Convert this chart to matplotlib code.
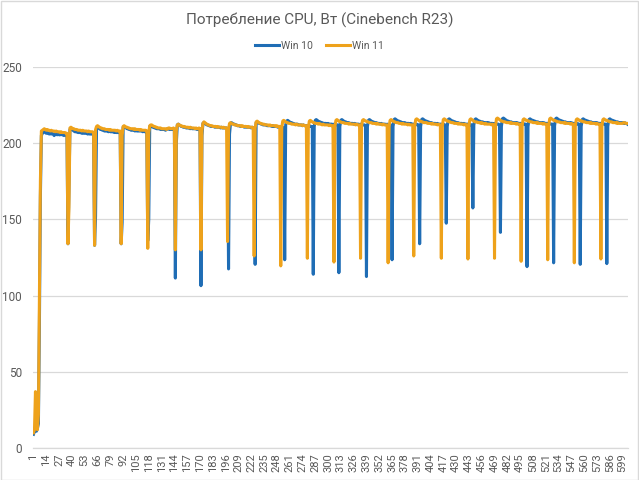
import matplotlib
matplotlib.use("Agg")
import matplotlib.pyplot as plt
from matplotlib.lines import Line2D
from matplotlib.patches import Rectangle
import numpy as np

title = "Потребление CPU, Вт (Cinebench R23)"
series_names = ["Win 10", "Win 11"]

# Win 10 power draw per sample (W)
win10 = [
    9, 11, 12, 11, 13, 16, 80, 165,
    205, 206.5, 207, 207.5, 207, 206.5, 207, 206.5, 206, 206.5, 206, 206.5, 206, 205, 206, 206, 205.5, 206, 205.5, 205.5, 206, 205.5, 205.5, 205, 205.5, 205.5, 205,
    134,
    170, 209, 209.5, 209, 208.5, 208, 207.5, 207.5, 207.5, 207, 207, 207, 207, 206.5, 207, 206.5, 206.5, 206.5, 206.5, 206, 206.5, 206, 206, 206, 206, 205.5,
    133,
    152, 210, 210.5, 210, 209.5, 209, 209, 208.5, 208.5, 208, 208, 208, 208, 207.5, 208, 207.5, 207.5, 207.5, 207.5, 207, 207.5, 207, 207, 207, 207, 207,
    134,
    148, 210.5, 211, 210.5, 210, 209.5, 209.5, 209, 209, 208.5, 208.5, 208.5, 208.5, 208, 208.5, 208, 208, 208, 208, 208, 208, 207.5, 208, 207.5, 207.5, 207.5,
    136,
    150, 211, 211.5, 211, 210.5, 210.5, 210, 210, 209.5, 209.5, 209.5, 209.5, 209, 209, 209, 209, 209, 208.5, 209, 209.5, 209.5, 209, 209, 209, 209.5, 209, 209,
    111.5,
    200, 212, 212.5, 212, 211.5, 211, 211, 210.5, 210.5, 210.5, 210, 210, 210, 210, 209.5, 210, 209.5, 209.5, 209.5, 209.5, 209.5, 209, 209.5, 209, 209.5,
    106.5,
    205, 213, 213.5, 213, 212.5, 212, 212, 211.5, 211.5, 211, 211, 211, 211, 210.5, 211, 210.5, 210.5, 210.5, 210.5, 210, 210.5, 210, 210, 210, 210, 210,
    209.5, 117.5,
    206, 213, 213.5, 213, 212.5, 212.5, 212, 212, 211.5, 211.5, 211.5, 211, 211, 211, 211, 210.5, 211, 210.5, 210.5, 210.5, 210.5, 210.5, 210, 210.5, 210, 210,
    120.5,
    213.5, 214, 213.5, 213, 213, 212.5, 212.5, 212, 212, 212, 212, 211.5, 211.5, 211.5, 211.5, 211.5, 211, 211.5, 211, 211, 211, 211, 210.5, 211, 210.5, 210.5, 210.5, 210.5, 210,
    123.5,
    212, 214.5, 215, 214.5, 214, 213.5, 213.5, 213, 213, 212.5, 212.5, 212.5, 212.5, 212, 212, 212, 212, 211.5, 212, 211.5, 211.5, 211.5, 211.5, 211, 211.5, 211, 211, 211,
    114,
    211, 215, 215.5, 215, 214.5, 214, 214, 213.5, 213.5, 213, 213, 213, 213, 212.5, 213, 212.5, 212.5, 212.5, 212.5, 212, 212.5, 212, 212, 212, 212,
    115,
    211, 215, 215.5, 215, 214.5, 214, 214, 213.5, 213.5, 213.5, 213, 213, 213, 213, 212.5, 213, 212.5, 212.5, 212.5, 212.5, 212, 212.5, 212, 212, 212, 212, 211.5,
    112.5,
    211, 215, 215.5, 215, 214.5, 214, 214, 213.5, 213.5, 213.5, 213, 213, 213, 212.5, 213, 212.5, 212.5, 212.5, 212.5, 212, 212.5, 212, 212, 212, 212,
    123.5,
    211, 215.5, 216, 215.5, 215, 214.5, 214.5, 214, 214, 213.5, 213.5, 213.5, 213.5, 213, 213, 213, 213, 212.5, 213, 212.5, 212.5, 212.5, 212.5, 212, 212.5, 212, 212,
    134,
    211, 215.5, 216, 215.5, 215, 214.5, 214.5, 214, 214, 213.5, 213.5, 213.5, 213, 213, 213, 213, 212.5, 213, 212.5, 212.5, 212.5, 212.5, 212, 212.5, 212, 212,
    147.5,
    211, 215.5, 216, 215.5, 215, 214.5, 214.5, 214, 214, 213.5, 213.5, 213.5, 213, 213, 213, 213, 212.5, 213, 212.5, 212.5, 212.5, 212.5, 212, 212.5, 212, 212,
    157.5,
    212, 215.5, 216, 215.5, 215, 214.5, 214.5, 214, 214, 214, 213.5, 213.5, 213.5, 213.5, 213, 213.5, 213, 213, 213, 213, 212.5, 213, 212.5, 212.5, 212.5, 212.5, 212,
    141.5,
    211, 216, 216.5, 216, 215.5, 215, 214.5, 214.5, 214, 214, 214, 213.5, 213.5, 213.5, 213.5, 213, 213.5, 213, 213, 213, 213, 212.5, 213, 212.5, 212.5, 212.5,
    119,
    211, 215.5, 216, 215.5, 215, 215, 214.5, 214.5, 214, 214, 214, 213.5, 213.5, 213.5, 213.5, 213, 213.5, 213, 213, 213, 213, 212.5, 213, 212.5, 212.5, 212.5,
    121.5,
    211.5, 216, 216.5, 216, 215.5, 215, 215, 214.5, 214.5, 214, 214, 214, 213.5, 213.5, 213.5, 213.5, 213, 213.5, 213, 213, 213, 213, 212.5, 213, 212.5, 212.5,
    120.5,
    211, 215.5, 216, 215.5, 215, 215, 214.5, 214.5, 214, 214, 214, 213.5, 213.5, 213.5, 213.5, 213, 213.5, 213, 213, 213, 213, 212.5, 213, 212.5, 212.5, 212.5,
    121,
    211, 215.5, 216, 215.5, 215, 215, 214.5, 214.5, 214, 214, 214, 213.5, 213.5, 213.5, 213.5, 213.5, 213, 213.5, 213, 213, 212.5,
]

# Win 11 power draw per sample (W)
win11 = [
    10, 12, 37, 14, 12, 22, 95, 175,
    208, 208.5, 209, 209.5, 209, 208.5, 209, 208.5, 208.5, 208, 208.5, 208, 208, 208, 207.5, 208, 207.5, 207.5, 207.5, 207, 207.5, 207, 207, 207, 207, 206.5, 206.5,
    134,
    158, 210, 210.5, 210, 209.5, 209.5, 209, 209, 209, 208.5, 208.5, 208.5, 208.5, 208, 208.5, 208, 208, 208, 208, 207.5, 208, 207.5, 207.5, 207.5, 207.5, 207,
    133,
    209, 211, 211.5, 211, 210.5, 210, 210, 209.5, 209.5, 209.5, 209, 209, 209, 209, 208.5, 209, 208.5, 208.5, 208.5, 208.5, 208.5, 208, 208.5, 208, 208, 208,
    134,
    205, 211, 211.5, 211, 210.5, 210.5, 210, 210, 209.5, 209.5, 209.5, 209.5, 209, 209.5, 209, 209, 209, 209, 208.5, 209, 208.5, 208.5, 208.5, 208.5, 208.5, 208,
    131,
    207, 211.5, 212, 212, 211.5, 211, 211, 210.5, 210.5, 210, 210, 210, 210, 209.5, 209.5, 209.5, 209.5, 209.5, 209, 209.5, 210, 210, 209.5, 209.5, 209.5, 210, 209.5,
    130,
    208, 212, 212.5, 212, 211.5, 211.5, 211, 211, 211, 210.5, 210.5, 210.5, 210.5, 210, 210.5, 210, 210, 210, 210, 209.5, 210, 209.5, 209.5, 210, 209.5,
    130,
    208, 213, 214, 213.5, 213, 212.5, 212, 212, 211.5, 211.5, 211.5, 211, 211, 211, 211, 210.5, 211, 210.5, 210.5, 210.5, 210.5, 210, 210.5, 210, 210, 210,
    135.5,
    209, 213, 213.5, 213, 212.5, 212.5, 212, 212, 212, 211.5, 211.5, 211.5, 211.5, 211, 211.5, 211, 211, 211, 211, 210.5, 211, 210.5, 210.5, 210.5, 210.5, 210,
    126,
    210, 214, 214.5, 214, 213.5, 213, 213, 212.5, 212.5, 212.5, 212, 212, 212, 212, 211.5, 212, 211.5, 211.5, 211.5, 211.5, 211.5, 211, 211.5, 211, 211, 211,
    119.5,
    210, 214.5, 215, 214.5, 214, 213.5, 213.5, 213, 213, 213, 212.5, 212.5, 212.5, 212.5, 212, 212.5, 212, 212, 212, 212, 212, 211.5, 212, 211.5, 211.5, 211.5,
    124.5,
    210, 214.5, 215, 214.5, 214, 213.5, 213.5, 213, 213, 213, 212.5, 213, 212.5, 212.5, 212, 212.5, 212, 212, 212, 212, 212, 211.5, 212, 211.5, 211.5, 211.5,
    122,
    211, 215, 215.5, 215, 214.5, 214, 214, 213.5, 213.5, 213.5, 213, 213, 213, 213, 212.5, 213, 212.5, 212.5, 212.5, 212.5, 212.5, 212, 212.5, 212, 212, 212,
    124.5,
    211, 215, 215.5, 215, 214.5, 214.5, 214, 214, 213.5, 213.5, 213.5, 213, 213, 213, 213, 212.5, 213, 212.5, 212.5, 212.5, 212.5, 212, 212.5, 212, 212, 212, 212,
    121.5,
    211, 215, 215.5, 215, 214.5, 214, 214, 213.5, 213.5, 213.5, 213, 213, 213, 212.5, 213, 212.5, 212.5, 212.5, 212.5, 212, 212.5, 212, 212, 212, 212,
    126,
    211, 215.5, 216, 215.5, 215, 214.5, 214.5, 214, 214, 213.5, 213.5, 213.5, 213.5, 213, 213, 213, 213, 212.5, 213, 212.5, 212.5, 212.5, 212.5, 212, 212.5, 212, 212,
    124.5,
    211, 215.5, 216, 215.5, 215, 214.5, 214.5, 214, 214, 213.5, 213.5, 213.5, 213, 213, 213, 213, 212.5, 213, 212.5, 212.5, 212.5, 212.5, 212, 212.5, 212, 212,
    124,
    211.5, 215.5, 216, 215.5, 215, 214.5, 214, 214, 214, 213.5, 213.5, 213.5, 213, 213.5, 213, 213, 212.5, 213, 212.5, 212.5, 212.5, 212.5, 212.5, 212, 212.5, 212,
    124.5,
    211, 216, 216.5, 216, 215.5, 215, 214.5, 214.5, 214, 214, 214, 213.5, 213.5, 213.5, 213.5, 213, 213.5, 213, 213, 213, 213, 212.5, 213, 212.5, 212.5, 212.5,
    122.5,
    211, 215.5, 216, 215.5, 215, 215, 214.5, 214.5, 214, 214, 214, 213.5, 213.5, 213.5, 213.5, 213, 213.5, 213, 213, 213, 213, 212.5, 213, 212.5, 212.5, 212.5,
    123.5,
    211.5, 216, 216.5, 216, 215.5, 215, 215, 214.5, 214.5, 214, 214, 214, 213.5, 213.5, 213.5, 213.5, 213, 213.5, 213, 213, 213, 213, 212.5, 213, 212.5, 212.5,
    121.5,
    211, 215.5, 216, 215.5, 215, 215, 214.5, 214.5, 214, 214, 214, 213.5, 213.5, 213.5, 213.5, 213, 213.5, 213, 213, 213, 213, 212.5, 213, 212.5, 212.5, 212.5,
    124,
    211, 215.5, 216, 215.5, 215, 215, 214.5, 214.5, 214, 214, 214, 213.5, 213.5, 213.5, 213.5, 213, 213.5, 213, 213, 213, 213, 213, 213.5, 213.5, 213, 213, 213,
]

n_points = 604
categories = list(range(1, n_points + 1))
tick_step = 13
tick_positions = categories[::tick_step]
tick_labels = [str(c) for c in tick_positions]
y_ticks = [0, 50, 100, 150, 200, 250]

FONT = ["Roboto", "DejaVu Sans"]
plt.rcParams["font.family"] = FONT
TXT = "#595959"
GRID = "#d9d9d9"
BLUE = "#1f6db5"
ORANGE = "#eea21b"

fig = plt.figure(figsize=(6.39, 4.80), dpi=100)
ax = fig.add_axes([33 / 639, 1 - 448 / 480, 595 / 639, 381 / 480])

x10 = categories[:len(win10)]
x11 = categories[:len(win11)]
ax.plot(x10, win10[:len(x10)], color=BLUE, lw=2.2, solid_joinstyle="round", zorder=3)
ax.plot(x11, win11[:len(x11)], color=ORANGE, lw=2.2, solid_joinstyle="round", zorder=4)

ax.set_xlim(0.5, n_points + 0.5)
ax.set_ylim(0, 250)
ax.set_yticks(y_ticks)
ax.set_yticklabels([str(v) for v in y_ticks], color=TXT, fontsize=8.5)
ax.set_xticks(tick_positions)
ax.set_xticklabels(tick_labels, rotation=90, color=TXT, fontsize=8)
ax.tick_params(axis="both", length=0, pad=4)
ax.tick_params(axis="y", pad=8)
ax.grid(axis="y", color=GRID, lw=0.9, zorder=0)
ax.set_axisbelow(True)
for s in ["top", "right", "left"]:
    ax.spines[s].set_visible(False)
ax.spines["bottom"].set_color(GRID)
ax.spines["bottom"].set_linewidth(0.9)

fig.text(0.5, 1 - 20 / 480, title, ha="center", va="center", fontsize=11, color=TXT)

handles = [Line2D([], [], color=BLUE, lw=2.2), Line2D([], [], color=ORANGE, lw=2.2)]
fig.legend(handles, series_names, loc="center", bbox_to_anchor=(0.5, 1 - 46 / 480),
           ncol=2, frameon=False, fontsize=7.5, labelcolor=TXT, handlelength=2.3,
           handletextpad=0.2, columnspacing=1.2)

fig.patches.append(Rectangle((0.001, 0.001), 0.997, 0.997, transform=fig.transFigure,
                             fill=False, edgecolor=GRID, lw=1.0))

fig.savefig("out.png", dpi=100, facecolor="white")
